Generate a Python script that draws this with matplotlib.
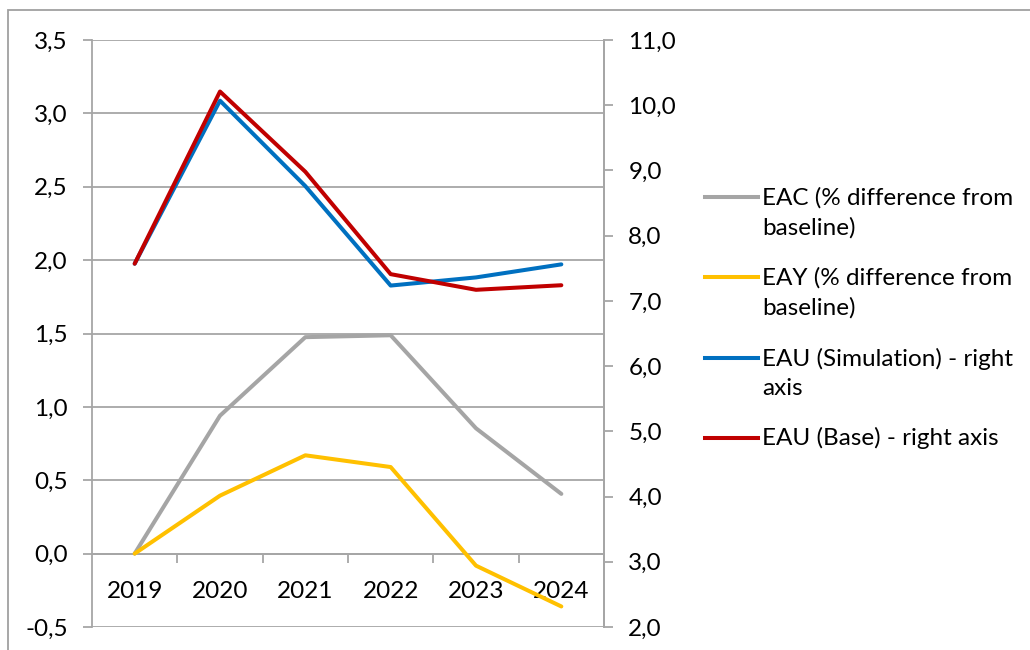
import numpy as np
import matplotlib
matplotlib.use("Agg")
import matplotlib.pyplot as plt
from matplotlib.lines import Line2D
from matplotlib.patches import Rectangle
from matplotlib.ticker import FuncFormatter, MultipleLocator

plt.rcParams['font.family'] = ['Lato', 'DejaVu Sans']

# data
years = ['2019', '2020', '2021', '2022', '2023', '2024']
eac = [0.0, 0.94, 1.475, 1.488, 0.854, 0.407]
eay = [0.0, 0.395, 0.67, 0.59, -0.082, -0.36]
eau_sim = [7.57, 10.07, 8.76, 7.235, 7.36, 7.56]
eau_base = [7.57, 10.21, 8.98, 7.41, 7.17, 7.24]

labels = ['EAC (% difference from\nbaseline)',
          'EAY (% difference from\nbaseline)',
          'EAU (Simulation) - right\naxis',
          'EAU (Base) - right axis']
colors = ['#A5A5A5', '#FFC000', '#0070C0', '#C00000']

W, H = 1030, 650
grid_col = '#A6A6A6'
fs = 17.5


def comma(v, pos):
    return f"{v:.1f}".replace('.', ',')


fig = plt.figure(figsize=(W / 100, H / 100), dpi=100)
fig.patch.set_facecolor('white')

# outer chart border (runs off the right and bottom edges)
fig.add_artist(Rectangle((8 / W, -0.1), 1.2, 1 - 10 / H + 0.1,
                         transform=fig.transFigure, fill=False,
                         edgecolor='#A0A0A0', linewidth=1.3))

left, right, top, bottom = 92, 604, 40, 627
ax = fig.add_axes([left / W, 1 - bottom / H, (right - left) / W,
                   (bottom - top) / H])
ax2 = ax.twinx()

x = np.arange(len(years))

ax.plot(x, eac, color=colors[0], linewidth=2.9, solid_capstyle='round',
        zorder=3)
ax.plot(x, eay, color=colors[1], linewidth=2.9, solid_capstyle='round',
        zorder=3)
ax2.plot(x, eau_sim, color=colors[2], linewidth=2.9, solid_capstyle='round')
ax2.plot(x, eau_base, color=colors[3], linewidth=2.9, solid_capstyle='round')

ax.set_xlim(-0.5, len(years) - 0.5)
ax.set_ylim(-0.5, 3.5)
ax2.set_ylim(2.0, 11.0)

ax.yaxis.set_major_locator(MultipleLocator(0.5))
ax2.yaxis.set_major_locator(MultipleLocator(1.0))
ax.yaxis.set_major_formatter(FuncFormatter(comma))
ax2.yaxis.set_major_formatter(FuncFormatter(comma))

ax.grid(axis='y', color=grid_col, linewidth=1.3)
ax.set_axisbelow(True)

# category axis sits on the zero line, ticks between categories
ax.spines['bottom'].set_position(('data', 0))
ax.set_xticks(x)
ax.set_xticklabels(years)
ax.set_xticks(np.arange(0.5, len(years) - 0.5, 1.0), minor=True)
ax.tick_params(axis='x', which='major', length=0, pad=20, labelsize=fs)
ax.tick_params(axis='x', which='minor', length=6.5, color=grid_col,
               width=1.3, direction='out')

ax.tick_params(axis='y', length=6.5, color=grid_col, width=1.3, pad=11,
               labelsize=fs)
ax2.tick_params(axis='y', length=6.5, color=grid_col, width=1.3, pad=11,
                labelsize=fs)

for a in (ax, ax2):
    for s in a.spines.values():
        s.set_color(grid_col)
        s.set_linewidth(1.3)
    a.spines['top'].set_visible(False)
ax2.spines['bottom'].set_visible(False)
ax2.spines['left'].set_visible(False)

# legend drawn by hand so each key lines up with the first text line
leg_y = [197, 277, 358, 438]
line_px = 31
for lab, col, yy in zip(labels, colors, leg_y):
    fig.add_artist(Line2D([705 / W, 758 / W], [1 - yy / H, 1 - yy / H],
                          color=col, linewidth=2.9,
                          transform=fig.transFigure))
    n_lines = lab.count('\n') + 1
    yc = yy + (n_lines - 1) * line_px / 2
    fig.text(762 / W, 1 - yc / H, lab, fontsize=fs, va='center', ha='left',
             linespacing=1.5, transform=fig.transFigure)

plt.savefig('out.png', dpi=100)
plt.close()
